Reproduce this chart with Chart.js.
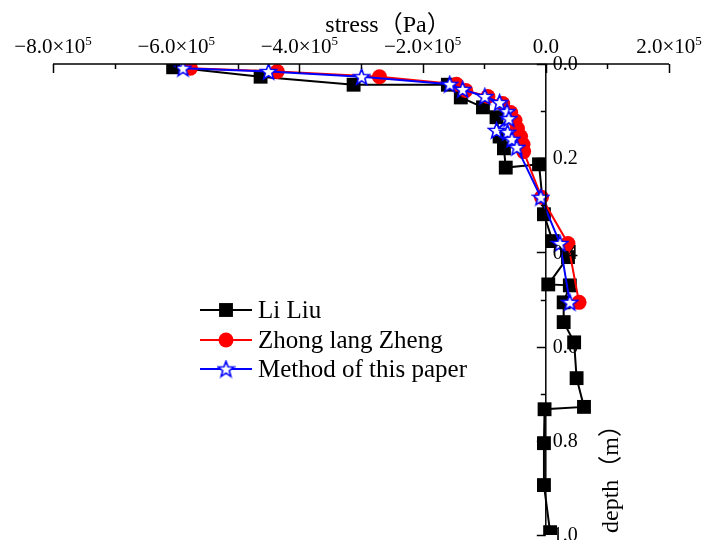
<!DOCTYPE html>
<html>
<head>
<meta charset="utf-8">
<script src="https://cdn.jsdelivr.net/npm/chart.js@4/dist/chart.umd.min.js"></script>
<style>
  html, body { margin: 0; padding: 0; background: #fff; }
  #wrap { width: 703px; height: 540px; }
</style>
</head>
<body>
<div id="wrap"><canvas id="c" width="703" height="540"></canvas></div>
<script>
// Stress (Pa) against depth (m) for the three methods
const liLiuStress = [-605000, -463000, -312000, -159000, -138000, -102000, -80000, -75000, -68000, -65000, -11000, -3000, 11000, 36000, 4000, 39000, 29000, 29000, 46000, 50000, 62000, -2000, -3000, -3000, 7000];
const liLiuDepth  = [0.007, 0.027, 0.044, 0.044, 0.071, 0.092, 0.113, 0.154, 0.179, 0.220, 0.213, 0.319, 0.376, 0.410, 0.468, 0.470, 0.506, 0.548, 0.591, 0.667, 0.728, 0.733, 0.805, 0.894, 0.994];

const zhengStress = [-577000, -436000, -270000, -145000, -130000, -94000, -70000, -57000, -50000, -46000, -41000, -37000, -36000, -7000, 36000, 54000];
const zhengDepth  = [0.009, 0.016, 0.027, 0.043, 0.056, 0.069, 0.084, 0.103, 0.120, 0.137, 0.154, 0.171, 0.186, 0.283, 0.381, 0.506];

const methodStress = [-589000, -450000, -299000, -156000, -135000, -99000, -75000, -63000, -60000, -80000, -62000, -55000, -47000, -8000, 23000, 39000];
const methodDepth  = [0.009, 0.016, 0.027, 0.043, 0.054, 0.069, 0.082, 0.101, 0.116, 0.141, 0.145, 0.160, 0.177, 0.283, 0.381, 0.506];

const seriesNames = ['Li Liu', 'Zhong lang Zheng', 'Method of this paper'];

// Axis ticks
const xTickValues = [-800000, -600000, -400000, -200000, 0, 200000];
const xTickMantissa = ['\u22128.0\u00d710', '\u22126.0\u00d710', '\u22124.0\u00d710', '\u22122.0\u00d710', '0.0', '2.0\u00d710'];
const xTickExponent = ['5', '5', '5', '5', '', '5'];
const yTickValues = [0, 0.2, 0.4, 0.6, 0.8, 1.0];
const yTickLabels = ['0.0', '0.2', '0.4', '0.6', '0.8', '1.0'];

const xTitle = 'stress\uff08Pa\uff09';
const yTitle = 'depth\uff08m\uff09';

const SERIF = '"Liberation Serif", "Times New Roman", "Noto Sans CJK SC", serif';

function pairs(xs, ys) {
  return xs.map((x, i) => ({ x: x, y: ys[i] }));
}

// Five-pointed hollow star marker
function makeStar(size, stroke) {
  const c = document.createElement('canvas');
  c.width = size; c.height = size;
  const g = c.getContext('2d');
  const cx = size / 2, cy = size / 2 + 0.6;
  const ro = size / 2 - 1.2, ri = ro * 0.42;
  g.beginPath();
  for (let k = 0; k < 10; k++) {
    const r = k % 2 === 0 ? ro : ri;
    const a = -Math.PI / 2 + k * Math.PI / 5;
    const px = cx + r * Math.cos(a), py = cy + r * Math.sin(a);
    if (k === 0) g.moveTo(px, py); else g.lineTo(px, py);
  }
  g.closePath();
  g.fillStyle = '#ffffff';
  g.fill();
  g.lineWidth = 1.6;
  g.strokeStyle = stroke;
  g.lineJoin = 'miter';
  g.stroke();
  return c;
}
const starMarker = makeStar(19, '#0000ff');

// Axes, titles and legend drawn over the plot
const frame = {
  id: 'frame',
  afterDraw(chart) {
    const ctx = chart.ctx;
    const xs = chart.scales.x, ys = chart.scales.y;
    const top = ys.getPixelForValue(0);
    const bottom = ys.getPixelForValue(1);
    const x0 = xs.getPixelForValue(0);
    ctx.save();
    ctx.strokeStyle = '#000';
    ctx.fillStyle = '#000';
    ctx.lineWidth = 1.5;

    // top stress axis
    ctx.beginPath();
    ctx.moveTo(xs.left, top); ctx.lineTo(xs.right, top);
    ctx.stroke();
    for (let v = -800000; v <= 200000; v += 100000) {
      const px = Math.round(xs.getPixelForValue(v)) + 0.5;
      const major = xTickValues.includes(v);
      ctx.beginPath();
      ctx.moveTo(px, top); ctx.lineTo(px, top + (major ? 9 : 5));
      ctx.stroke();
    }
    ctx.textBaseline = 'alphabetic';
    xTickValues.forEach((v, i) => {
      const px = xs.getPixelForValue(v);
      ctx.font = '21px ' + SERIF;
      const wm = ctx.measureText(xTickMantissa[i]).width;
      ctx.font = '13px ' + SERIF;
      const we = xTickExponent[i] ? ctx.measureText(xTickExponent[i]).width : 0;
      const start = px - (wm + we) / 2;
      ctx.font = '21px ' + SERIF;
      ctx.textAlign = 'left';
      ctx.fillText(xTickMantissa[i], start, 53);
      if (xTickExponent[i]) {
        ctx.font = '13px ' + SERIF;
        ctx.fillText(xTickExponent[i], start + wm, 45);
      }
    });

    // depth axis at zero stress
    ctx.beginPath();
    ctx.moveTo(x0, top); ctx.lineTo(x0, bottom);
    ctx.stroke();
    for (let k = 0; k <= 10; k++) {
      const v = k / 10;
      const py = Math.round(ys.getPixelForValue(v)) + 0.5;
      const major = k % 2 === 0;
      ctx.beginPath();
      ctx.moveTo(x0, py); ctx.lineTo(x0 - (major ? 9 : 5), py);
      ctx.stroke();
    }
    ctx.font = '20px ' + SERIF;
    ctx.textAlign = 'left';
    ctx.textBaseline = 'middle';
    yTickValues.forEach((v, i) => {
      ctx.fillText(yTickLabels[i], x0 + 7, ys.getPixelForValue(v) + 1);
    });

    // axis titles
    ctx.font = '24px ' + SERIF;
    ctx.textAlign = 'center';
    ctx.textBaseline = 'alphabetic';
    ctx.fillText(xTitle, 388, 32);
    ctx.save();
    ctx.translate(612, 473);
    ctx.rotate(-Math.PI / 2);
    ctx.textBaseline = 'middle';
    ctx.fillText(yTitle, 0, 0);
    ctx.restore();

    // legend
    const rows = [310, 340, 369];
    chart.data.datasets.forEach((ds, i) => {
      const y = rows[i];
      ctx.strokeStyle = ds.borderColor;
      ctx.lineWidth = 2;
      ctx.beginPath();
      ctx.moveTo(200, y); ctx.lineTo(252, y);
      ctx.stroke();
      if (ds.pointStyle === 'rect') {
        ctx.fillStyle = ds.pointBackgroundColor;
        const s = ds.pointRadius * Math.SQRT1_2;
        ctx.fillRect(226 - s, y - s, 2 * s, 2 * s);
      } else if (ds.pointStyle === 'circle') {
        ctx.fillStyle = ds.pointBackgroundColor;
        ctx.beginPath();
        ctx.arc(226, y, ds.pointRadius, 0, Math.PI * 2);
        ctx.fill();
      } else {
        ctx.drawImage(ds.pointStyle, 226 - ds.pointStyle.width / 2, y - ds.pointStyle.height / 2);
      }
      ctx.fillStyle = '#000';
      ctx.font = '25px ' + SERIF;
      ctx.textAlign = 'left';
      ctx.textBaseline = 'middle';
      ctx.fillText(seriesNames[i], 258, y + 1);
    });
    ctx.restore();
  }
};

const whiteBg = {
  id: 'whiteBg',
  beforeDraw(chart) {
    const ctx = chart.ctx;
    ctx.save();
    ctx.fillStyle = '#fff';
    ctx.fillRect(0, 0, chart.width, chart.height);
    ctx.restore();
  }
};

new Chart(document.getElementById('c'), {
  type: 'scatter',
  data: {
    datasets: [
      {
        label: seriesNames[0],
        data: pairs(liLiuStress, liLiuDepth),
        showLine: true,
        borderColor: '#000000',
        borderWidth: 2,
        pointStyle: 'rect',
        pointRadius: 9.8,
        pointBackgroundColor: '#000000',
        pointBorderColor: '#000000',
        pointBorderWidth: 0,
        order: 3
      },
      {
        label: seriesNames[1],
        data: pairs(zhengStress, zhengDepth),
        showLine: true,
        borderColor: '#ff0000',
        borderWidth: 2,
        pointStyle: 'circle',
        pointRadius: 7.5,
        pointBackgroundColor: '#ff0000',
        pointBorderColor: '#ff0000',
        pointBorderWidth: 0,
        order: 2
      },
      {
        label: seriesNames[2],
        data: pairs(methodStress, methodDepth),
        showLine: true,
        borderColor: '#0000ff',
        borderWidth: 2,
        pointStyle: starMarker,
        pointRadius: 9,
        pointBackgroundColor: '#ffffff',
        pointBorderColor: '#0000ff',
        order: 1
      }
    ]
  },
  options: {
    responsive: false,
    animation: false,
    devicePixelRatio: 1,
    layout: { autoPadding: false, padding: { left: 53, right: 34, top: 64, bottom: 5 } },
    plugins: {
      legend: { display: false },
      tooltip: { enabled: false }
    },
    scales: {
      x: { type: 'linear', min: -800000, max: 200000, display: false },
      y: { type: 'linear', min: 0, max: 1, reverse: true, display: false }
    }
  },
  plugins: [whiteBg, frame]
});
</script>
</body>
</html>
